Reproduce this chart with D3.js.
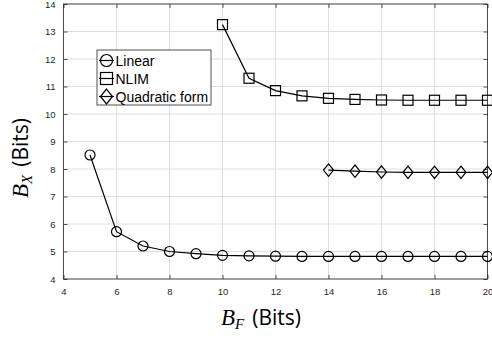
<!DOCTYPE html>
<html>
<head>
<meta charset="utf-8">
<script src="https://cdn.jsdelivr.net/npm/d3@7"></script>
<style>
html,body{margin:0;padding:0;background:#fff;}
svg{display:block;}
</style>
</head>
<body>
<svg id="chart" width="492" height="346"></svg>
<script>
const linearX = [5,6,7,8,9,10,11,12,13,14,15,16,17,18,19,20];
const linearY = [8.51,5.72,5.2,5.0,4.92,4.86,4.84,4.83,4.82,4.82,4.82,4.82,4.82,4.82,4.82,4.82];
const nlimX = [10,11,12,13,14,15,16,17,18,19,20];
const nlimY = [13.25,11.3,10.85,10.66,10.57,10.53,10.51,10.5,10.5,10.5,10.5];
const quadX = [14,15,16,17,18,19,20];
const quadY = [7.96,7.92,7.89,7.88,7.88,7.88,7.88];
const xTicks = [4,6,8,10,12,14,16,18,20];
const yTicks = [4,5,6,7,8,9,10,11,12,13,14];
const legendLabels = ["Linear","NLIM","Quadratic form"];

const svg = d3.select("#chart");
const L = 63.5, R = 487.5, T = 4, B = 279;
const x = d3.scaleLinear().domain([4,20]).range([L,R]);
const y = d3.scaleLinear().domain([4,14]).range([B,T]);

// grid
const g = svg.append("g");
g.selectAll(".gx").data(xTicks).enter().append("line")
  .attr("x1",d=>x(d)).attr("x2",d=>x(d)).attr("y1",T).attr("y2",B)
  .attr("stroke","#dedede").attr("stroke-width",1);
g.selectAll(".gy").data(yTicks).enter().append("line")
  .attr("y1",d=>y(d)).attr("y2",d=>y(d)).attr("x1",L).attr("x2",R)
  .attr("stroke","#dedede").attr("stroke-width",1);

// axes
const tickStyle = sel => {
  sel.select(".domain").remove();
  sel.selectAll("line").attr("stroke","#262626").attr("stroke-width",0.8);
  sel.selectAll("text").attr("fill","#262626").style("font-family","'Liberation Sans',Arial,sans-serif").style("font-size","9.5px");
};
svg.append("g").attr("transform",`translate(0,${B})`)
  .call(d3.axisBottom(x).tickValues(xTicks).tickSizeInner(-4).tickSizeOuter(0).tickPadding(9).tickFormat(d3.format("d")))
  .call(tickStyle);
svg.append("g").attr("transform",`translate(${L},0)`)
  .call(d3.axisLeft(y).tickValues(yTicks).tickSizeInner(-4).tickSizeOuter(0).tickPadding(8).tickFormat(d3.format("d")))
  .call(tickStyle);
svg.append("g").attr("transform",`translate(0,${T})`)
  .call(d3.axisTop(x).tickValues(xTicks).tickSizeInner(-4).tickSizeOuter(0).tickFormat(""))
  .call(tickStyle);
svg.append("g").attr("transform",`translate(${R},0)`)
  .call(d3.axisRight(y).tickValues(yTicks).tickSizeInner(-4).tickSizeOuter(0).tickFormat(""))
  .call(tickStyle);
svg.append("rect").attr("x",L).attr("y",T).attr("width",R-L).attr("height",B-T)
  .attr("fill","none").attr("stroke","#262626").attr("stroke-width",0.8);

// series
const line = d3.line().x(d=>x(d[0])).y(d=>y(d[1]));
const series = [
  {xs:linearX, ys:linearY, m:"circle"},
  {xs:nlimX, ys:nlimY, m:"square"},
  {xs:quadX, ys:quadY, m:"diamond"}
];
function marker(sel, type, cx, cy, s){
  if(type==="circle"){
    sel.append("circle").attr("cx",cx).attr("cy",cy).attr("r",5*s)
      .attr("fill","none").attr("stroke","#000").attr("stroke-width",1.2);
  } else if(type==="square"){
    const h=5*s;
    sel.append("rect").attr("x",cx-h).attr("y",cy-h).attr("width",2*h).attr("height",2*h)
      .attr("fill","none").attr("stroke","#000").attr("stroke-width",1.2);
  } else {
    const w=5*s, hh=6.2*s;
    sel.append("path").attr("d",`M${cx},${cy-hh}L${cx+w},${cy}L${cx},${cy+hh}L${cx-w},${cy}Z`)
      .attr("fill","none").attr("stroke","#000").attr("stroke-width",1.2);
  }
}
series.forEach(s=>{
  const pts = s.xs.map((v,i)=>[v,s.ys[i]]);
  svg.append("path").datum(pts).attr("d",line).attr("fill","none").attr("stroke","#000").attr("stroke-width",1.2);
  const mg = svg.append("g");
  pts.forEach(p=>marker(mg, s.m, x(p[0]), y(p[1]), 1));
});

// legend
const lg = svg.append("g");
lg.append("rect").attr("x",97).attr("y",50).attr("width",114).attr("height",55)
  .attr("fill","#fff").attr("stroke","#262626").attr("stroke-width",0.8);
legendLabels.forEach((lab,i)=>{
  const cy = 60.5 + i*18;
  lg.append("line").attr("x1",99).attr("x2",114).attr("y1",cy).attr("y2",cy).attr("stroke","#000").attr("stroke-width",1.2);
  marker(lg, series[i].m, 106.5, cy, 1.2);
  lg.append("text").attr("x",115.5).attr("y",cy+5).text(lab)
    .style("font-family","'Liberation Sans',Arial,sans-serif").style("font-size","14px").attr("fill","#000");
});

// axis labels
const xl = svg.append("text").attr("x",221).attr("y",325).attr("fill","#000");
xl.append("tspan").text("B").style("font-family","'Liberation Serif',serif").style("font-style","italic").style("font-size","23px");
xl.append("tspan").text("F").attr("dy",4).style("font-family","'Liberation Serif',serif").style("font-style","italic").style("font-size","15px");
xl.append("tspan").text("(Bits)").attr("dy",-4).attr("dx",8).style("font-family","'Open Sans',sans-serif").style("font-size","21px");

const yl = svg.append("text").attr("transform","translate(28,198) rotate(-90)").attr("fill","#000");
yl.append("tspan").text("B").style("font-family","'Liberation Serif',serif").style("font-style","italic").style("font-size","23px");
yl.append("tspan").text("X").attr("dy",4).style("font-family","'Liberation Serif',serif").style("font-style","italic").style("font-size","15px");
yl.append("tspan").text("(Bits)").attr("dy",-4).attr("dx",8).style("font-family","'Open Sans',sans-serif").style("font-size","21px");
</script>
</body>
</html>
